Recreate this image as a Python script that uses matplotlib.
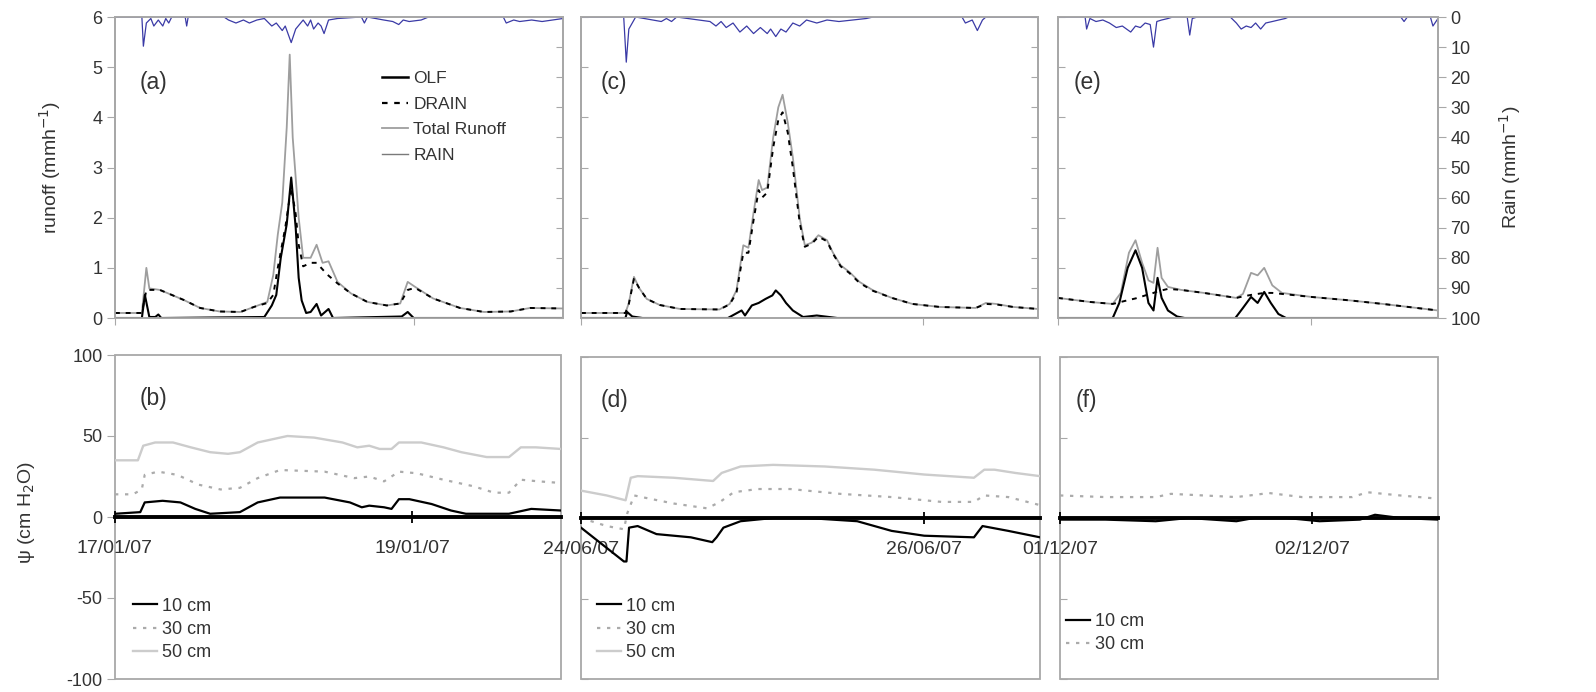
import matplotlib
matplotlib.use('Agg')
import matplotlib.pyplot as plt
from matplotlib.lines import Line2D
from matplotlib.patches import Rectangle

plt.rcParams['font.family'] = ['Liberation Sans', 'DejaVu Sans']
plt.rcParams['text.color'] = '#333333'
plt.rcParams['axes.labelcolor'] = '#333333'
plt.rcParams['xtick.labelcolor'] = '#333333'
plt.rcParams['ytick.labelcolor'] = '#333333'
plt.rcParams['axes.unicode_minus'] = False

# ---- data (time in days from the first date of each event) ----
# event 1: 17/01/07
a_tot_t = [0, 0.18, 0.21, 0.23, 0.30, 0.46, 0.57, 0.70, 0.84, 0.93, 1.02, 1.06, 1.09, 1.12, 1.15, 1.17, 1.19, 1.23, 1.26, 1.31,
           1.35, 1.39, 1.43, 1.49, 1.58, 1.69, 1.82, 1.91, 1.96, 2.01, 2.13, 2.31, 2.47, 2.65, 2.78, 3.0]
a_tot_v = [0.1, 0.1, 1.0, 0.59, 0.56, 0.36, 0.2, 0.13, 0.12, 0.22, 0.32, 0.86, 1.66, 2.3, 3.8, 5.25, 3.6, 2.0, 1.2, 1.2,
           1.46, 1.1, 1.13, 0.72, 0.49, 0.32, 0.25, 0.29, 0.72, 0.62, 0.39, 0.2, 0.12, 0.13, 0.2, 0.19]
a_drn_t = [0, 0.18, 0.21, 0.30, 0.46, 0.57, 0.70, 0.84, 0.93, 1.02, 1.06, 1.09, 1.14, 1.18, 1.21, 1.23, 1.26, 1.31, 1.35, 1.42,
           1.49, 1.58, 1.69, 1.82, 1.91, 1.96, 2.01, 2.13, 2.31, 2.47, 2.65, 2.78, 3.0]
a_drn_v = [0.1, 0.1, 0.56, 0.56, 0.36, 0.2, 0.13, 0.12, 0.22, 0.3, 0.46, 1.0, 1.8, 2.6, 2.07, 1.46, 1.03, 1.1, 1.1, 0.87,
           0.69, 0.49, 0.32, 0.25, 0.29, 0.56, 0.6, 0.39, 0.2, 0.12, 0.13, 0.2, 0.19]
a_olf_t = [0, 0.18, 0.20, 0.23, 0.27, 0.29, 0.31, 1.0, 1.05, 1.08, 1.11, 1.15, 1.18, 1.21, 1.23, 1.25, 1.28, 1.31, 1.35, 1.38,
           1.43, 1.46, 1.92, 1.96, 2.0, 3.0]
a_olf_v = [0, 0, 0.46, 0.02, 0.02, 0.07, 0, 0.02, 0.25, 0.46, 1.2, 1.87, 2.8, 1.8, 0.8, 0.35, 0.1, 0.12, 0.28, 0.05,
           0.18, 0, 0.03, 0.12, 0, 0]
a_rain_t = [0, 0.18, 0.19, 0.21, 0.24, 0.26, 0.29, 0.32, 0.34, 0.36, 0.38, 0.47, 0.48, 0.49, 0.73, 0.76, 0.81, 0.86, 0.90, 0.95,
            1.0, 1.05, 1.08, 1.12, 1.14, 1.18, 1.21, 1.26, 1.29, 1.31, 1.33, 1.36, 1.38, 1.40, 1.43, 1.49, 1.65, 1.67, 1.69, 1.80,
            1.86, 1.90, 1.93, 1.97, 2.05, 2.1, 2.6, 2.62, 2.67, 2.71, 2.79, 2.86, 2.93, 3.0]
a_rain_v = [0, 0, 9.7, 2, 0.5, 3, 1, 3, 0.5, 2, 0, 0, 3, 0, 0, 1, 2, 1, 2, 1,
            0.5, 3, 2, 4.5, 3, 8.5, 4, 1, 3, 1, 4, 2, 3, 5.5, 1, 0.5, 0, 2, 0, 1,
            1.5, 2.5, 1, 1.5, 1, 0, 0, 2, 1, 1.5, 1, 1.5, 1, 0.5]
b_50_t = [0, 0.154, 0.19, 0.27, 0.39, 0.51, 0.64, 0.76, 0.84, 0.96, 1.16, 1.34, 1.53, 1.63, 1.71, 1.78, 1.86, 1.91, 2.06, 2.21,
          2.33, 2.5, 2.65, 2.73, 2.83, 3.0]
b_50_v = [35, 35, 44, 46, 46, 43, 40, 39, 40, 46, 50, 49, 46, 43, 44, 42, 42, 46, 46, 43, 40, 37, 37, 43, 43, 42]
b_30_t = [0, 0.12, 0.18, 0.2, 0.29, 0.42, 0.56, 0.71, 0.84, 0.96, 1.11, 1.41, 1.61, 1.71, 1.81, 1.91, 2.03, 2.21, 2.41, 2.55,
          2.65, 2.73, 2.85, 3.0]
b_30_v = [14, 14, 17, 26, 28, 26, 20, 17, 18, 24, 29, 28, 24, 25, 22, 28, 27, 23, 19, 15, 15, 23, 22, 21]
b_10_t = [0, 0.17, 0.2, 0.32, 0.44, 0.54, 0.64, 0.84, 0.96, 1.11, 1.41, 1.58, 1.66, 1.71, 1.81, 1.86, 1.91, 1.98, 2.13, 2.26,
          2.36, 2.65, 2.8, 3.0]
b_10_v = [2, 3, 9, 10, 9, 5, 2, 3, 9, 12, 12, 9, 6, 7, 6, 5, 11, 11, 8, 4, 2, 2, 5, 4]

# event 2: 24/06/07
c_t = [0, 0.26, 0.28, 0.31, 0.34, 0.385, 0.46, 0.58, 0.81, 0.87, 0.91, 0.95, 0.98, 1.01, 1.04, 1.06, 1.09, 1.125, 1.155, 1.18,
       1.21, 1.24, 1.28, 1.31, 1.35, 1.39, 1.44, 1.475, 1.52, 1.57, 1.63, 1.71, 1.82, 1.94, 2.10, 2.31, 2.37, 2.43, 2.53, 2.675]
c_tot_v = [0.1, 0.1, 0.3, 0.82, 0.6, 0.38, 0.26, 0.18, 0.17, 0.28, 0.55, 1.45, 1.4, 2.1, 2.75, 2.55, 2.6, 3.6, 4.2, 4.45,
           3.9, 3.2, 2.0, 1.45, 1.5, 1.65, 1.55, 1.3, 1.05, 0.92, 0.72, 0.55, 0.4, 0.28, 0.22, 0.2, 0.3, 0.28, 0.22, 0.18]
c_drn_v = [0.1, 0.1, 0.28, 0.78, 0.6, 0.38, 0.26, 0.18, 0.17, 0.27, 0.5, 1.3, 1.3, 1.95, 2.55, 2.4, 2.5, 3.4, 3.95, 4.1,
           3.7, 3.0, 1.9, 1.42, 1.48, 1.62, 1.53, 1.28, 1.03, 0.9, 0.7, 0.54, 0.4, 0.28, 0.22, 0.2, 0.28, 0.27, 0.22, 0.18]
c_olf_t = [0, 0.26, 0.27, 0.30, 0.36, 0.86, 0.94, 0.96, 1.0, 1.04, 1.08, 1.12, 1.14, 1.17, 1.20, 1.24, 1.30, 1.38, 1.5, 2.675]
c_olf_v = [0, 0, 0.12, 0.03, 0, 0, 0.15, 0.05, 0.25, 0.3, 0.38, 0.45, 0.55, 0.45, 0.3, 0.15, 0.02, 0.05, 0, 0]
c_rain_t = [0, 0.25, 0.265, 0.28, 0.30, 0.32, 0.47, 0.5, 0.53, 0.56, 0.755, 0.79, 0.82, 0.85, 0.89, 0.93, 0.97, 1.01, 1.05, 1.09,
            1.11, 1.14, 1.17, 1.20, 1.24, 1.28, 1.32, 1.38, 1.44, 1.51, 1.59, 1.67, 1.71, 2.23, 2.25, 2.29, 2.32, 2.35, 2.37, 2.675]
c_rain_v = [0, 0, 15, 4, 2, 0, 1.5, 0.5, 1.5, 0, 1.5, 3, 1.5, 3.5, 2, 5, 3, 5.5, 3.5, 5.5,
            4, 6.5, 4, 5, 2, 3, 1, 2, 1, 1.5, 1, 0.5, 0, 0, 2, 1, 4.5, 1, 0, 0]
d_50_t = [0, 0.15, 0.26, 0.29, 0.33, 0.54, 0.77, 0.82, 0.93, 1.12, 1.42, 1.71, 2.0, 2.29, 2.35, 2.41, 2.53, 2.675]
d_50_v = [17, 14, 11, 25, 26, 25, 23, 28, 32, 33, 32, 30, 27, 25, 30, 30, 28, 26]
d_30_t = [0, 0.15, 0.25, 0.27, 0.31, 0.4, 0.54, 0.735, 0.81, 0.89, 1.03, 1.22, 1.51, 1.81, 2.1, 2.29, 2.35, 2.49, 2.675]
d_30_v = [0, -5, -7, 3, 14, 12, 9, 6, 10, 16, 18, 18, 15, 13, 10, 10, 14, 13, 8]
d_10_t = [0, 0.25, 0.265, 0.28, 0.33, 0.44, 0.64, 0.765, 0.79, 0.83, 0.93, 1.12, 1.32, 1.61, 1.81, 2.0, 2.29, 2.34, 2.49, 2.675]
d_10_v = [-6, -27, -27, -6, -5, -10, -12, -15, -12, -6, -2, 0, 0, -2, -8, -11, -12, -5, -8, -12]

# event 3: 01/12/07
e_t = [0, 0.126, 0.216, 0.248, 0.28, 0.306, 0.332, 0.357, 0.377, 0.393, 0.409, 0.434, 0.486, 0.576, 0.704, 0.73, 0.762, 0.788,
       0.814, 0.846, 0.884, 1.0, 1.154, 1.283, 1.5]
e_tot_v = [0.4, 0.32, 0.28, 0.5, 1.3, 1.55, 1.1, 0.75, 0.7, 1.4, 0.8, 0.62, 0.56, 0.5, 0.4, 0.48, 0.9, 0.85,
           1.0, 0.65, 0.5, 0.42, 0.35, 0.28, 0.15]
e_drn_v = [0.4, 0.32, 0.28, 0.32, 0.36, 0.39, 0.43, 0.47, 0.5, 0.53, 0.55, 0.58, 0.56, 0.5, 0.4, 0.43, 0.46, 0.48,
           0.5, 0.5, 0.48, 0.42, 0.35, 0.28, 0.15]
e_olf_t = [0, 0.216, 0.242, 0.275, 0.306, 0.332, 0.357, 0.377, 0.393, 0.409, 0.434, 0.47, 0.5, 0.7, 0.73, 0.762, 0.788, 0.814,
           0.84, 0.87, 0.9, 1.5]
e_olf_v = [0, 0, 0.3, 1.0, 1.35, 1.0, 0.3, 0.15, 0.8, 0.4, 0.15, 0.03, 0, 0, 0.2, 0.42, 0.3, 0.52, 0.3, 0.08, 0, 0]
e_rain_t = [0, 0.107, 0.113, 0.126, 0.15, 0.177, 0.203, 0.23, 0.254, 0.287, 0.306, 0.325, 0.344, 0.364, 0.377, 0.39, 0.409,
            0.434, 0.453, 0.51, 0.52, 0.53, 0.55, 0.68, 0.704, 0.723, 0.743, 0.762, 0.78, 0.8, 0.82, 0.846, 0.871, 0.897,
            0.91, 1.353, 1.366, 1.379, 1.47, 1.48, 1.5]
e_rain_v = [0, 0, 4, 0.5, 1.5, 1, 2, 3.5, 3, 5, 3, 3.5, 2, 2.5, 10, 1.5, 1, 0.5, 0, 0, 6, 0.5, 0, 0, 2, 4, 3, 3.5, 2, 4,
            2, 1.5, 1, 0.5, 0, 0, 1.5, 0, 0, 3, 0.5]
f_30_t = [0, 0.18, 0.38, 0.44, 0.7, 0.83, 0.96, 1.16, 1.22, 1.35, 1.5]
f_30_v = [14, 13, 13, 15, 13, 15.5, 13, 13, 16, 14, 12]
f_10_t = [0, 0.18, 0.38, 0.51, 0.7, 0.77, 0.9, 1.03, 1.19, 1.25, 1.35, 1.5]
f_10_v = [-1, -1, -2, 0, -2, 0, 0, -2, -1, 2, 0, -1]

spans = [3.0, 2.675, 1.5]
date_ticks = [[0, 2], [0, 2], [0, 1]]
date_labels = [['17/01/07', '19/01/07'], ['24/06/07', '26/06/07'], ['01/12/07', '02/12/07']]

GRID = '#a8a8a8'
W, H = 1596, 692
fig = plt.figure(figsize=(W / 100, H / 100), dpi=100)


def box(x0, y0, x1, y1):
    return [x0 / W, 1 - y1 / H, (x1 - x0) / W, (y1 - y0) / H]


top_boxes = [box(115, 17, 563, 318), box(581, 17, 1038, 318), box(1058, 17, 1438, 318)]
bot_boxes = [box(115, 355, 561, 679), box(581, 357, 1040, 679), box(1060, 357, 1438, 679)]

top_data = [(a_tot_t, a_tot_v, a_drn_t, a_drn_v, a_olf_t, a_olf_v, a_rain_t, a_rain_v),
            (c_t, c_tot_v, c_t, c_drn_v, c_olf_t, c_olf_v, c_rain_t, c_rain_v),
            (e_t, e_tot_v, e_t, e_drn_v, e_olf_t, e_olf_v, e_rain_t, e_rain_v)]
bot_data = [[(b_10_t, b_10_v), (b_30_t, b_30_v), (b_50_t, b_50_v)],
            [(d_10_t, d_10_v), (d_30_t, d_30_v), (d_50_t, d_50_v)],
            [(f_10_t, f_10_v), (f_30_t, f_30_v)]]
top_letters = ['(a)', '(c)', '(e)']
bot_letters = ['(b)', '(d)', '(f)']
leg_anchor = [(0.04, 0.055), (0.035, 0.055), (0.015, 0.08)]

for i in range(3):
    # runoff + rain
    ax = fig.add_axes(top_boxes[i])
    tt, tv, dt, dv, ot, ov, rt, rv = top_data[i]
    ax.plot(tt, tv, color='#9e9e9e', lw=1.3, zorder=2)
    ax.plot(dt, dv, color='k', lw=1.4, ls=(0, (2.5, 3)), zorder=3)
    ax.plot(ot, ov, color='k', lw=1.5, zorder=4)
    ax.set_xlim(0, spans[i])
    ax.set_ylim(0, 6)
    ax.set_xticks(date_ticks[i])
    ax.set_xticklabels([])
    ax.set_yticks(range(0, 7))
    ax.tick_params(axis='x', direction='out', length=5, color=GRID)
    for s in ax.spines.values():
        s.set_color(GRID)
        s.set_linewidth(1.3)
    axr = ax.twinx()
    axr.plot(rt, rv, color='#3a3aa6', lw=0.9)
    axr.set_ylim(100, 0)
    axr.set_yticks(range(0, 101, 10))
    for s in axr.spines.values():
        s.set_color(GRID)
        s.set_linewidth(1.3)
    if i == 0:
        ax.tick_params(axis='y', direction='out', length=6, color=GRID, labelsize=13, pad=3)
        ax.set_ylabel('runoff (mmh$^{-1}$)', fontsize=14)
        ax.yaxis.set_label_coords(-0.116, 0.5)
        handles = [Line2D([], [], color='k', lw=1.8),
                   Line2D([], [], color='k', lw=1.6, ls=(0, (2.5, 3))),
                   Line2D([], [], color='#9e9e9e', lw=1.3),
                   Line2D([], [], color='#7a7a7a', lw=1.0)]
        ax.legend(handles, ['OLF', 'DRAIN', 'Total Runoff', 'RAIN'], loc='upper left',
                  bbox_to_anchor=(0.596, 0.82), frameon=False, fontsize=12.5, handlelength=1.5,
                  handletextpad=0.3, labelspacing=0.6, borderpad=0, borderaxespad=0)
    else:
        ax.tick_params(axis='y', direction='in', length=5, color=GRID, labelleft=False)
    if i == 2:
        axr.tick_params(axis='y', direction='out', length=6, color=GRID, labelsize=13, pad=3)
        axr.set_ylabel('Rain (mmh$^{-1}$)', fontsize=14)
        axr.yaxis.set_label_coords(1.155, 0.5)
    else:
        axr.tick_params(axis='y', direction='in', length=5, color=GRID, labelright=False)
    ax.text(0.042 if i else 0.055, 0.784, top_letters[i], transform=ax.transAxes, fontsize=16.5, va='center')

    # soil water potential
    bx = fig.add_axes(bot_boxes[i])
    styles = [dict(color='k', lw=1.6),
              dict(color='#ababab', lw=1.6, ls=(0, (1.5, 3))),
              dict(color='#cccccc', lw=1.7)]
    names = ['10 cm', '30 cm', '50 cm']
    for (st, sv), sty, nm in zip(bot_data[i], styles, names):
        bx.plot(st, sv, label=nm, zorder=2, **sty)
    bx.set_xlim(0, spans[i])
    bx.set_ylim(-100, 100)
    for k in ['top', 'left', 'right']:
        bx.spines[k].set_visible(False)
    bx.spines['bottom'].set_position(('data', 0))
    bx.spines['bottom'].set_color('k')
    bx.spines['bottom'].set_linewidth(2.8)
    bx.add_patch(Rectangle((0, 0), 1, 1, transform=bx.transAxes, fill=False, ec=GRID, lw=1.3,
                           clip_on=False, zorder=1))
    bx.set_xticks(date_ticks[i])
    bx.set_xticklabels(date_labels[i])
    bx.tick_params(axis='x', direction='inout', length=9, width=1.3, color='k', labelsize=14, pad=12)
    bx.set_yticks([-100, -50, 0, 50, 100])
    if i == 0:
        bx.tick_params(axis='y', direction='out', length=6, color=GRID, labelsize=13, pad=3)
        bx.set_ylabel('ψ (cm H$_2$O)', fontsize=14)
        bx.yaxis.set_label_coords(-0.175, 0.515)
    else:
        bx.tick_params(axis='y', direction='in', length=5, color=GRID, labelleft=False)
    bx.legend(loc='lower left', bbox_to_anchor=leg_anchor[i], frameon=False,
              fontsize=13, handlelength=1.35, handletextpad=0.25, labelspacing=0.35,
              borderpad=0, borderaxespad=0)
    bx.text(0.055 if i == 0 else 0.042, 0.865, bot_letters[i], transform=bx.transAxes, fontsize=16.5, va='center')

fig.savefig('out.png', dpi=100)
